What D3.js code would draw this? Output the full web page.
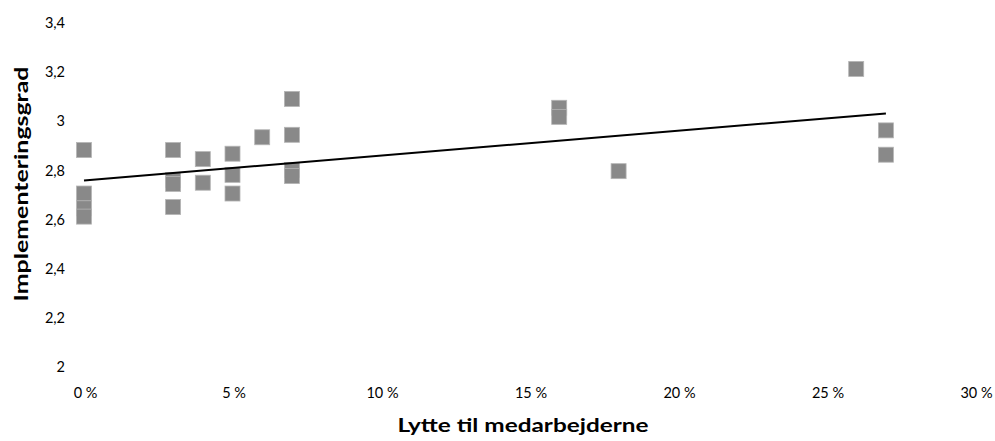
<!DOCTYPE html>
<html><head><meta charset="utf-8">
<script src="https://cdn.jsdelivr.net/npm/d3@7"></script>
<style>body{margin:0;background:#fff}svg{display:block}text{font-family:Lato,"Open Sans",sans-serif}</style>
</head><body><svg id="c" width="995" height="441"></svg>
<script>
const xValues = [0,0,0,0, 0.03,0.03,0.03,0.03, 0.04,0.04, 0.05,0.05,0.05, 0.06, 0.07,0.07,0.07,0.07, 0.16,0.16, 0.18, 0.26, 0.27,0.27];
const yValues = [2.883,2.706,2.646,2.612, 2.883,2.761,2.745,2.651, 2.846,2.75, 2.868,2.782,2.706, 2.935, 3.091,2.945,2.802,2.777, 3.055,3.018, 2.797, 3.213, 2.963,2.864];
const trendX = [0, 0.27];
const trendY = [2.759, 3.032];
const xTicks = [0,0.05,0.10,0.15,0.20,0.25,0.30];
const yTicks = [2,2.2,2.4,2.6,2.8,3,3.2,3.4];
const xTitle = "Lytte til medarbejderne";
const yTitle = "Implementeringsgrad";

const svg = d3.select("#c");
const x = d3.scaleLinear().domain([0,0.30]).range([84,975]);
const y = d3.scaleLinear().domain([2,3.4]).range([367,23]);

const xAxis = d3.axisBottom(x).tickValues(xTicks).tickSize(0).tickPadding(0)
  .tickFormat(d => Math.round(d*100) + " %");
const gx = svg.append("g").attr("transform","translate(1,388)").call(xAxis);
gx.select(".domain").remove();
gx.selectAll("text").attr("font-size",14.5).attr("fill","#000").attr("dy","0.71em")
  .style("font-family","Lato,sans-serif");

const yAxis = d3.axisLeft(y).tickValues(yTicks).tickSize(0).tickPadding(0)
  .tickFormat(d => String(+d.toFixed(1)).replace(".",","));
const gy = svg.append("g").attr("transform","translate(65,0)").call(yAxis);
gy.select(".domain").remove();
gy.selectAll("text").attr("font-size",14.5).attr("fill","#000")
  .style("font-family","Lato,sans-serif");

const pts = d3.range(xValues.length).map(i => ({x:xValues[i], y:yValues[i]}));
const s = 15;
svg.append("g").selectAll("rect").data(pts).join("rect")
  .attr("x", d => x(d.x) - s/2).attr("y", d => y(d.y) - s/2)
  .attr("width", s).attr("height", s)
  .attr("fill","#898989").attr("stroke","#b5b5b5").attr("stroke-width",0.8);

svg.append("path")
  .datum(d3.range(trendX.length).map(i => [trendX[i], trendY[i]]))
  .attr("d", d3.line().x(d => x(d[0])).y(d => y(d[1])))
  .attr("stroke","#000").attr("stroke-width",2).attr("fill","none");

svg.append("text").attr("x",523).attr("y",432).attr("text-anchor","middle")
  .attr("font-size",18).attr("font-weight","bold").attr("textLength",251).attr("lengthAdjust","spacingAndGlyphs").text(xTitle);
svg.append("text").attr("transform","translate(28,184) rotate(-90)").attr("text-anchor","middle")
  .attr("font-size",18).attr("font-weight","bold").attr("textLength",235).attr("lengthAdjust","spacingAndGlyphs").text(yTitle);
</script></body></html>
